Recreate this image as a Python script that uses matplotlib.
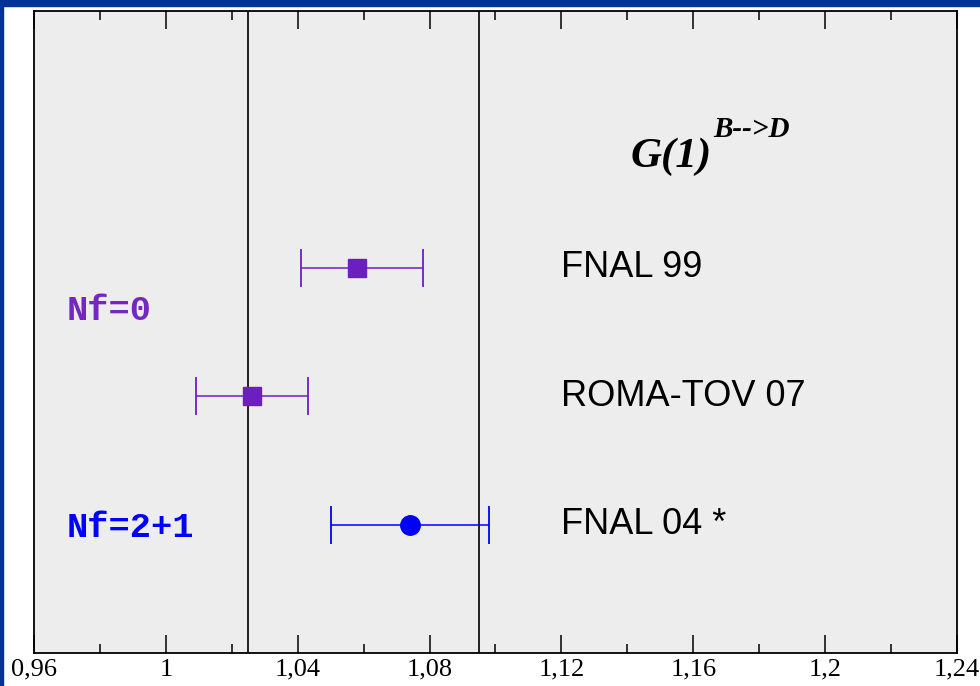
import matplotlib
matplotlib.use('Agg')
import matplotlib.pyplot as plt
from matplotlib.patches import Rectangle
from matplotlib.ticker import MultipleLocator, FuncFormatter

labels = ['FNAL 99', 'ROMA-TOV 07', 'FNAL 04 *']
values = [1.058, 1.026, 1.074]
err_lo = [0.017, 0.017, 0.024]
err_hi = [0.020, 0.017, 0.024]
rows = [3, 2, 1]
markers = ['s', 's', 'o']
colors = ['#6c1fbf', '#6c1fbf', '#0000ff']
band = [1.025, 1.095]

purple = '#7428c0'
blue = '#0000ff'

fig = plt.figure(figsize=(9.8, 6.86), dpi=100)
fig.patches.append(Rectangle((0, 1 - 6 / 686), 1, 6 / 686, transform=fig.transFigure,
                             color='#003399', zorder=0))
fig.patches.append(Rectangle((0, 0), 3 / 980, 1, transform=fig.transFigure,
                             color='#003399', zorder=0))

ax = fig.add_axes([34 / 980, 33 / 686, 923 / 980, 642 / 686])
ax.set_facecolor('#ededed')
ax.set_xlim(0.96, 1.24)
ax.set_ylim(0, 5)

for xv in band:
    ax.axvline(xv, color='black', lw=1.2, zorder=1)

for y, v, lo, hi, m, c, lab in zip(rows, values, err_lo, err_hi, markers, colors, labels):
    ms = 12.5 if m == 's' else 14
    ax.errorbar([v], [y], xerr=[[lo], [hi]], fmt=m, color=c, ms=ms,
                elinewidth=1.1, capsize=14, capthick=1.3, zorder=3)
    ax.text(1.12, y, lab, fontsize=26, family='Liberation Sans',
            va='center', ha='left')

ax.text(0.970, 2.671, 'Nf=0', color=purple, fontsize=25.5, family='Liberation Mono',
        weight='bold', va='center', ha='left')
ax.text(0.970, 0.981, 'Nf=2+1', color=blue, fontsize=25.5, family='Liberation Mono',
        weight='bold', va='center', ha='left')

ax.text(1.141, 3.785, 'G(1)', fontsize=31, family='Liberation Serif', weight='bold',
        style='italic', va='baseline', ha='left')
ax.text(1.1662, 4.02, 'B-->D', fontsize=21, family='Liberation Serif', weight='bold',
        style='italic', va='baseline', ha='left')

ax.xaxis.set_major_locator(MultipleLocator(0.04))
ax.xaxis.set_minor_locator(MultipleLocator(0.02))
ax.xaxis.set_major_formatter(FuncFormatter(lambda v, p: '{:g}'.format(round(v, 2)).replace('.', ',')))
ax.tick_params(axis='x', which='both', direction='in', top=True, width=1.1,
               labelsize=19, pad=4, labelfontfamily='Liberation Serif')
ax.tick_params(axis='x', which='major', length=13)
ax.tick_params(axis='x', which='minor', length=6.5)
ax.set_yticks([])
for s in ax.spines.values():
    s.set_linewidth(1.3)

fig.savefig('out.png', dpi=100)
